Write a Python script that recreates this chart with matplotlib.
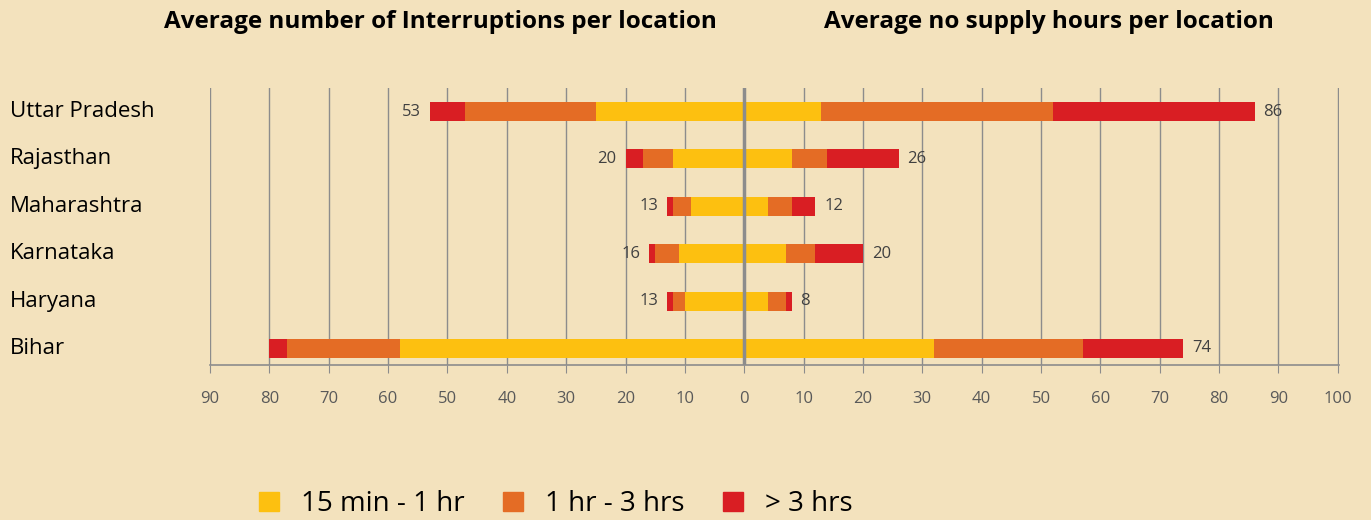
import matplotlib.pyplot as plt
import matplotlib.transforms as mtransforms
from matplotlib.patches import Patch

# data
states = ["Uttar Pradesh", "Rajasthan", "Maharashtra", "Karnataka", "Haryana", "Bihar"]
legend_labels = ["15 min - 1 hr", "1 hr - 3 hrs", "> 3 hrs"]

# left side: average number of interruptions per location
intr_short = [25, 12, 9, 11, 10, 58]
intr_mid = [22, 5, 3, 4, 2, 19]
intr_long = [6, 3, 1, 1, 1, 3]
intr_labels = ["53", "20", "13", "16", "13", ""]

# right side: average no supply hours per location
hrs_short = [13, 8, 4, 7, 4, 32]
hrs_mid = [39, 6, 4, 5, 3, 25]
hrs_long = [34, 12, 4, 8, 1, 17]
hrs_labels = ["86", "26", "12", "20", "8", "74"]

ticks = list(range(-90, 101, 10))

bg = "#F3E2BD"
colors = ["#FDC010", "#E46C25", "#D91E23"]

plt.rcParams['font.family'] = ['Open Sans', 'DejaVu Sans']

fig = plt.figure(figsize=(13.71, 5.20), dpi=100, facecolor=bg)
ax = fig.add_axes([210 / 1371, 0.298, 1129 / 1371, 0.533])
ax.set_facecolor(bg)

y = list(range(len(states)))
h = 0.4

# left bars (drawn as negative values)
left = [0] * len(states)
for vals, c in zip([intr_short, intr_mid, intr_long], colors):
    ax.barh(y, [-v for v in vals], left=[-l for l in left], height=h, color=c, zorder=2)
    left = [a + b for a, b in zip(left, vals)]
for yi, tot, lab in zip(y, left, intr_labels):
    if lab:
        ax.text(-tot - 1.5, yi, lab, ha="right", va="center", fontsize=12, color="#404040")

# right bars
right = [0] * len(states)
for vals, c in zip([hrs_short, hrs_mid, hrs_long], colors):
    ax.barh(y, vals, left=right, height=h, color=c, zorder=2)
    right = [a + b for a, b in zip(right, vals)]
for yi, tot, lab in zip(y, right, hrs_labels):
    ax.text(tot + 1.5, yi, lab, ha="left", va="center", fontsize=12, color="#404040")

ax.set_xlim(-90, 100.2)
ax.set_ylim(5.35, -0.5)
ax.set_xticks(ticks)
ax.set_xticklabels([str(abs(t)) for t in ticks], fontsize=12, color="#595959")
ax.tick_params(axis="x", length=6, color="#8c8c8c", pad=13)
ax.xaxis.grid(True, color="#8c8c8c", linewidth=1, zorder=0)
ax.set_axisbelow(True)
ax.axvline(0, color="#8c8c8c", linewidth=2.5, zorder=3)

ax.set_yticks(y)
ax.set_yticklabels([])
ax.tick_params(axis="y", length=0)
trans = mtransforms.blended_transform_factory(fig.transFigure, ax.transData)
for yi, s in zip(y, states):
    fig.text(10 / 1371, yi, s, transform=trans, fontsize=16, color="black", va="center")
for sp in ["top", "right", "left"]:
    ax.spines[sp].set_visible(False)
ax.spines["bottom"].set_color("#8c8c8c")
ax.spines["bottom"].set_linewidth(1.2)

fig.text(440 / 1371, 1 - 22 / 520, "Average number of Interruptions per location",
         ha="center", va="center", fontsize=17.5, fontweight="bold")
fig.text(1049 / 1371, 1 - 22 / 520, "Average no supply hours per location",
         ha="center", va="center", fontsize=17.5, fontweight="bold")

handles = [Patch(color=c) for c in colors]
fig.legend(handles, legend_labels, loc="center", bbox_to_anchor=(556 / 1371, 16 / 520),
           ncol=3, frameon=False, fontsize=20, handlelength=0.7, handleheight=0.7,
           columnspacing=1.4, handletextpad=0.8, borderpad=0.1)

fig.savefig("out.png", dpi=100, facecolor=bg)
